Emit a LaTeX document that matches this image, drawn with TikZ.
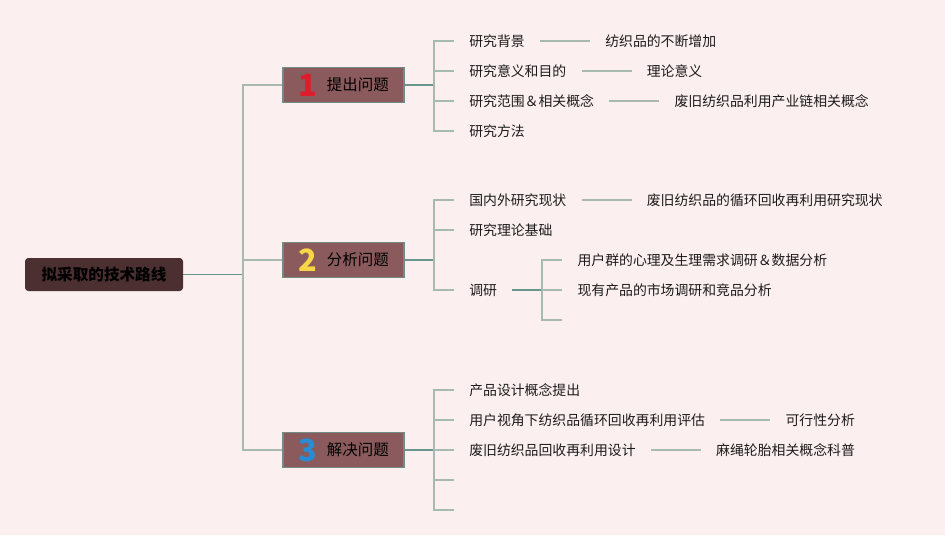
\documentclass[tikz,border=0pt]{standalone}
\usepackage{fontspec}
\setmainfont{Noto Sans CJK SC}
\usetikzlibrary{calc}
\definecolor{bg}{RGB}{252,239,239}
\definecolor{rootfill}{RGB}{75,47,49}
\definecolor{brfill}{RGB}{138,90,92}
\definecolor{brd}{RGB}{112,140,132}
\definecolor{lnlight}{RGB}{166,186,177}
\definecolor{lndark}{RGB}{105,150,140}
\definecolor{txt}{RGB}{28,28,28}
\definecolor{numred}{RGB}{222,28,44}
\definecolor{numyel}{RGB}{246,214,70}
\definecolor{numblue}{RGB}{40,140,212}
\newcommand{\bignumfont}{\fontsize{23}{23}\selectfont\bfseries}
\newcommand{\branchlabel}[3]{$\vcenter{\hbox{\bignumfont\color{#1}#2}}$\hspace{7.5pt}$\vcenter{\hbox{#3}}$}
\begin{document}
\begin{tikzpicture}[x=0.75pt,y=-0.75pt,
  rootbox/.style={fill=rootfill,rounded corners=2.5pt,minimum width=118.5pt,minimum height=24.75pt,inner sep=0pt,text=black,font=\fontsize{11.7}{13}\selectfont\bfseries},
  branchbox/.style={draw=brd,fill=brfill,line width=0.9pt,minimum width=90.75pt,minimum height=26.25pt,inner sep=0pt,text=black,font=\fontsize{11.6}{13}\selectfont},
  leaf/.style={anchor=west,inner xsep=11.25pt,inner ysep=2pt,text=txt,font=\fontsize{10.4}{12}\selectfont},
  lnl/.style={draw=lnlight,line width=1.3pt},
  lnd/.style={draw=lndark,line width=1.3pt}
]
\fill[bg] (0,0) rectangle (945,535);
\useasboundingbox (0,0) rectangle (945,535);

% root
\node[rootbox] (root) at (104,274.5) {拟采取的技术路线};

% branches
\node[branchbox] (b1) at (343.5,85) {\branchlabel{numred}{1}{提出问题}};
\node[branchbox] (b2) at (343.5,260) {\branchlabel{numyel}{2}{分析问题}};
\node[branchbox] (b3) at (343.5,450) {\branchlabel{numblue}{3}{解决问题}};

\coordinate (j0) at (243,274.5);
\draw[lnd] (root.east) -- (j0);
\draw[lnl] (b1.west) -| (j0);
\draw[lnl] (b3.west) -| (j0);
\draw[lnl] (j0) |- (b2.west);

% branch 1 children
\node[leaf] (c11) at (454,41) {研究背景};
\node[leaf] (c12) at (454,71) {研究意义和目的};
\node[leaf] (c13) at (454,101) {研究范围＆相关概念};
\node[leaf] (c14) at (454,131) {研究方法};
\coordinate (j1) at (434,85);
\draw[lnd] (b1.east) -- (j1);
\foreach \c in {c11,c12,c13,c14} \draw[lnl] (j1) |- (\c.west);

\node[leaf] (l11) at ($(c11.east)+(37.5pt,0)$) {纺织品的不断增加};
\node[leaf] (l12) at ($(c12.east)+(37.5pt,0)$) {理论意义};
\node[leaf] (l13) at ($(c13.east)+(37.5pt,0)$) {废旧纺织品利用产业链相关概念};
\draw[lnl] (c11.east) -- (l11.west);
\draw[lnl] (c12.east) -- (l12.west);
\draw[lnl] (c13.east) -- (l13.west);

% branch 2 children
\node[leaf] (c21) at (454,200) {国内外研究现状};
\node[leaf] (c22) at (454,230) {研究理论基础};
\node[leaf] (c23) at (454,290) {调研};
\coordinate (j2) at (434,260);
\draw[lnd] (b2.east) -- (j2);
\foreach \c in {c21,c22,c23} \draw[lnl] (j2) |- (\c.west);

\node[leaf] (l21) at ($(c21.east)+(37.5pt,0)$) {废旧纺织品的循环回收再利用研究现状};
\draw[lnl] (c21.east) -- (l21.west);

\coordinate (j23) at ($(c23.east)+(22.5pt,0)$);
\draw[lnd] (c23.east) -- (j23);
\node[leaf] (s1) at ($(j23)+(15pt,-30)$) {用户群的心理及生理需求调研＆数据分析};
\node[leaf] (s2) at ($(j23)+(15pt,0)$) {现有产品的市场调研和竞品分析};
\coordinate (s3) at ($(j23)+(15pt,30)$);
\draw[lnl] (j23) |- (s1.west);
\draw[lnl] (j23) -- (s2.west);
\draw[lnl] (j23) |- (s3);

% branch 3 children
\node[leaf] (c31) at (454,390) {产品设计概念提出};
\node[leaf] (c32) at (454,420) {用户视角下纺织品循环回收再利用评估};
\node[leaf] (c33) at (454,450) {废旧纺织品回收再利用设计};
\coordinate (c34) at (454,480);
\coordinate (c35) at (454,510);
\coordinate (j3) at (434,450);
\draw[lnd] (b3.east) -- (j3);
\foreach \c in {c31,c32} \draw[lnl] (j3) |- (\c.west);
\draw[lnl] (j3) -- (c33.west);
\foreach \c in {c34,c35} \draw[lnl] (j3) |- (\c);

\node[leaf] (l32) at ($(c32.east)+(37.5pt,0)$) {可行性分析};
\node[leaf] (l33) at ($(c33.east)+(37.5pt,0)$) {麻绳轮胎相关概念科普};
\draw[lnl] (c32.east) -- (l32.west);
\draw[lnl] (c33.east) -- (l33.west);
\end{tikzpicture}
\end{document}
